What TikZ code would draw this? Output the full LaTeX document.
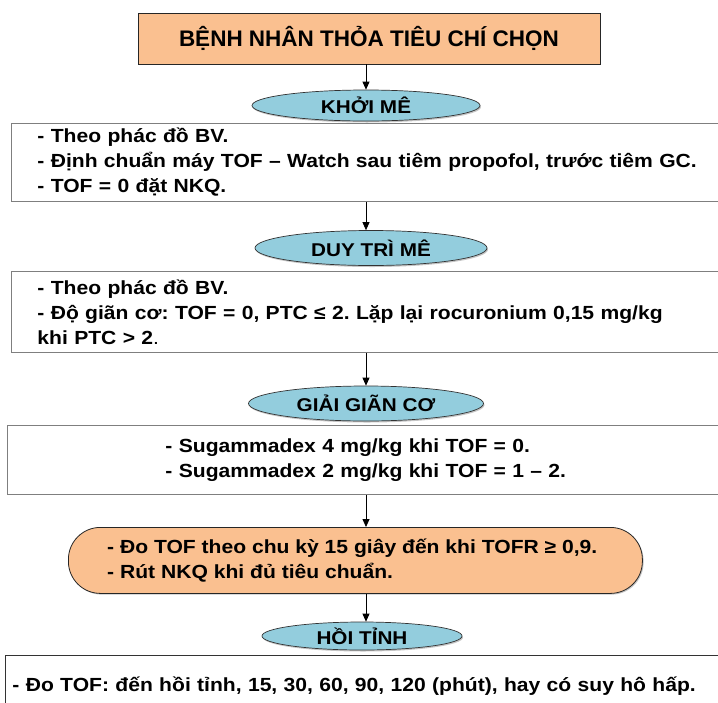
\documentclass[tikz,border=0pt]{standalone}
\usepackage{fontspec}
\setmainfont{Liberation Sans}
\newfontfamily\widefont[FakeStretch=1.11]{Liberation Sans}
\newfontfamily\ovalfont[FakeStretch=1.12]{Liberation Sans}
\usetikzlibrary{arrows.meta,shapes.geometric,shadows}
\definecolor{orangefill}{HTML}{FAC090}
\definecolor{aquafill}{HTML}{93CDDD}
\definecolor{boxline}{HTML}{7F7F7F}
\frenchspacing
\begin{document}
\begin{tikzpicture}[x=1pt,y=-1pt,
  bodytext/.style={font=\widefont\bfseries\fontsize{19}{25}\selectfont},
  head/.style={draw=black!85, fill=orangefill, line width=0.8pt,
    drop shadow={shadow xshift=1.2pt, shadow yshift=-1.2pt, opacity=0.45}},
  oval/.style={ellipse, draw=black!80, fill=aquafill, line width=0.7pt, inner sep=0pt,
    font=\ovalfont\bfseries\fontsize{18.5}{20}\selectfont,
    drop shadow={shadow xshift=1pt, shadow yshift=-1.5pt, opacity=0.45}},
  panel/.style={draw=boxline, line width=0.9pt, fill=white, anchor=north west,
    align=left, bodytext, inner ysep=0pt},
  arr/.style={-{Triangle[length=8pt,width=7pt]}, line width=0.8pt}
]
\useasboundingbox (0,0) rectangle (718,702);
\clip (0,0) rectangle (718,702);
\fill[white] (0,0) rectangle (718,702);

\node[head, minimum width=462pt, minimum height=51pt,
  font=\bfseries\fontsize{22.5}{24}\selectfont] (start) at (369,38.5) {BỆNH NHÂN THỎA TIÊU CHÍ CHỌN};

\node[oval, minimum width=228pt, minimum height=31pt] (e1) at (366,105.5) {KHỞI MÊ};

\node[panel, minimum width=719pt, minimum height=78pt, text width=690pt, inner xsep=26pt] (b1) at (11,123)
 {- Theo phác đồ BV.\\
  - Định chuẩn máy TOF – Watch sau tiêm propofol, trước tiêm GC.\\
  - TOF = 0 đặt NKQ.};

\node[oval, minimum width=232pt, minimum height=35pt] (e2) at (371,248) {DUY TRÌ MÊ};

\node[panel, minimum width=719pt, minimum height=81pt, text width=690pt, inner xsep=26pt] (b2) at (11,271)
 {- Theo phác đồ BV.\\
  - Độ giãn cơ: TOF = 0, PTC ≤ 2. Lặp lại rocuronium 0,15 mg/kg\\
  khi PTC > 2{\mdseries.}};

\node[oval, minimum width=235pt, minimum height=35pt] (e3) at (366,403.5) {GIẢI GIÃN CƠ};

\node[panel, minimum width=723pt, minimum height=69pt, text width=560pt, inner xsep=158pt] (b3) at (7,425)
 {- Sugammadex 4 mg/kg khi TOF = 0.\\
  - Sugammadex 2 mg/kg khi TOF = 1 – 2.};

\node[head, rounded corners=32pt, minimum width=574pt, minimum height=66pt, anchor=north west,
  inner sep=0pt] (r1) at (68,527) {};
\node[bodytext, anchor=west, align=left, inner sep=0pt] (r1text) at ([xshift=39pt]r1.west)
 {- Đo TOF theo chu kỳ 15 giây đến khi TOFR ≥ 0,9.\\
  - Rút NKQ khi đủ tiêu chuẩn.};

\node[oval, minimum width=200pt, minimum height=28pt] (e4) at (362,636) {HỒI TỈNH};

\node[panel, draw=black!80, minimum width=725pt, minimum height=62pt, text width=711pt, inner xsep=7pt] (b4) at (5,655)
 {- Đo TOF: đến hồi tỉnh, 15, 30, 60, 90, 120 (phút), hay có suy hô hấp.};

\draw[arr] (start.south -| e1) -- (e1.north);
\draw[arr] (b1.south -| e1) -- (e2.north -| e1);
\draw[arr] (b2.south -| e1) -- (e3.north);
\draw[arr] (b3.south -| e1) -- (r1.north -| e1);
\draw[arr] (r1.south -| e1) -- (e4.north -| e1);
\end{tikzpicture}
\end{document}
